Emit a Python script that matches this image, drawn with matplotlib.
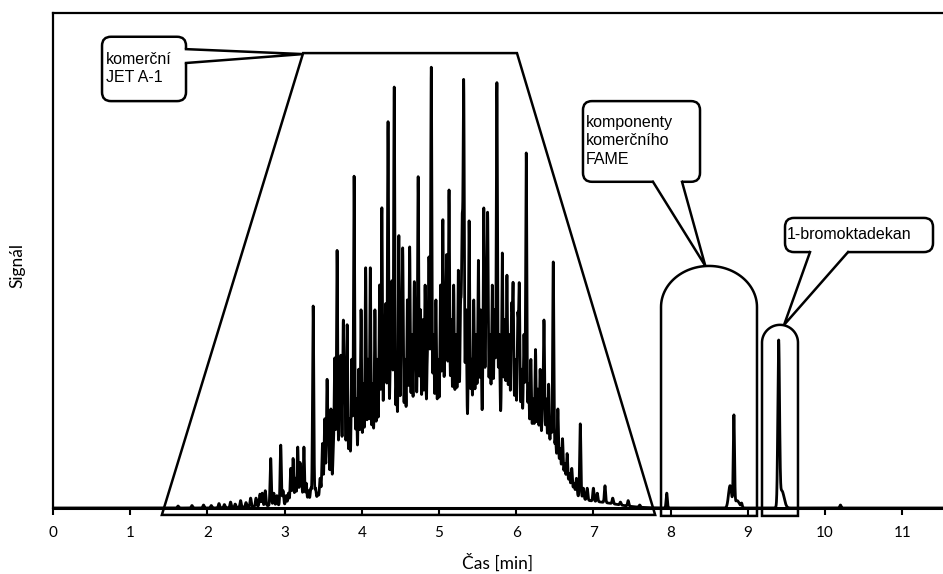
# Chromatogram of commercial JET A-1 with FAME components and 1-bromooctadecane

import numpy as np
import matplotlib
matplotlib.use("Agg")
import matplotlib.pyplot as plt
from matplotlib.patches import FancyBboxPatch, Polygon

# sharp peaks: retention time [min], apex signal
peak_t = [1.62, 1.80, 1.95, 2.05, 2.15, 2.22, 2.30, 2.36, 2.43, 2.50, 2.56, 2.63,
          2.68, 2.71, 2.75, 2.82, 2.86, 2.90, 2.95, 2.98, 3.02, 3.05, 3.08, 3.11,
          3.14, 3.17, 3.20, 3.22, 3.25, 3.28, 3.31, 3.34, 3.37, 3.40, 3.43, 3.46,
          3.49, 3.52, 3.55, 3.57, 3.60, 3.63, 3.65, 3.68, 3.71, 3.73, 3.76, 3.78,
          3.81, 3.84, 3.87, 3.90, 3.93, 3.96, 3.99, 4.02, 4.05, 4.08, 4.11, 4.14,
          4.17, 4.20, 4.23, 4.26, 4.29, 4.31, 4.34, 4.37, 4.39, 4.42, 4.45, 4.48,
          4.51, 4.53, 4.56, 4.59, 4.62, 4.65, 4.68, 4.70, 4.73, 4.76, 4.79, 4.82,
          4.85, 4.87, 4.90, 4.93, 4.96, 4.99, 5.02, 5.05, 5.08, 5.10, 5.13, 5.16,
          5.19, 5.22, 5.25, 5.28, 5.30, 5.32, 5.35, 5.39, 5.42, 5.45, 5.48, 5.51,
          5.54, 5.58, 5.61, 5.63, 5.66, 5.69, 5.72, 5.75, 5.78, 5.82, 5.85, 5.88,
          5.91, 5.94, 5.96, 5.99, 6.02, 6.04, 6.07, 6.10, 6.13, 6.16, 6.19, 6.22,
          6.25, 6.28, 6.31, 6.34, 6.36, 6.39, 6.42, 6.45, 6.48, 6.51, 6.54, 6.57,
          6.60, 6.63, 6.66, 6.69, 6.72, 6.75, 6.78, 6.83, 6.87, 6.92, 7.00, 7.05,
          7.15, 7.25, 7.35, 7.45, 7.60, 7.95, 8.92, 10.2]
peak_h = [0.4, 0.5, 0.6, 0.5, 0.9, 0.7, 1.2, 0.8, 1.5, 1.1, 2.0, 2.0,
          2.8, 3.0, 3.5, 10.0, 3.0, 2.5, 12.7, 3.5, 2.5, 3.0, 8.0, 10.0,
          6.0, 12.3, 9.0, 5.0, 12.3, 5.0, 3.5, 4.0, 40.8, 4.0, 3.0, 6.0,
          13.0, 18.0, 25.5, 14.0, 20.0, 10.0, 30.0, 52.0, 22.0, 30.0, 37.0, 25.0,
          37.0, 18.0, 30.0, 67.0, 22.0, 28.0, 40.0, 25.0, 48.5, 30.0, 48.5, 25.0,
          40.0, 30.0, 45.0, 60.6, 35.0, 40.0, 78.0, 30.0, 45.0, 85.0, 25.0, 55.0,
          35.0, 51.5, 30.0, 42.0, 52.7, 35.0, 45.0, 30.0, 66.9, 40.0, 38.0, 45.0,
          30.0, 50.0, 89.0, 35.0, 42.0, 30.0, 45.0, 58.2, 40.0, 50.0, 64.2, 38.0,
          45.0, 35.0, 48.0, 40.0, 55.0, 84.8, 40.0, 58.0, 30.0, 42.0, 35.0, 50.0,
          40.0, 60.6, 42.0, 58.6, 35.0, 45.0, 40.0, 85.9, 35.0, 51.5, 38.0, 47.0,
          35.0, 40.0, 44.4, 30.0, 38.0, 44.4, 28.0, 35.0, 71.7, 25.0, 30.0, 22.0,
          32.0, 24.0, 28.0, 20.0, 37.6, 22.0, 25.0, 18.0, 49.7, 14.0, 20.0, 12.0,
          14.0, 9.0, 11.0, 7.0, 8.0, 5.0, 6.0, 17.0, 4.0, 4.0, 4.0, 3.0,
          4.5, 2.0, 1.2, 1.5, 0.6, 3.0, 1.0, 0.6]
peak_w = 0.008

# unresolved hump and broader peaks: centre [min], height, width [min]
hump_t = [2.90, 3.90, 4.60, 5.30, 5.95, 6.45, 7.00, 8.77, 8.82, 8.86, 9.40, 9.44]
hump_h = [0.5, 4.0, 9.0, 12.0, 12.0, 5.0, 1.2, 4.5, 18.0, 1.5, 32.5, 3.5]
hump_w = [0.30, 0.35, 0.40, 0.45, 0.35, 0.18, 0.30, 0.02, 0.008, 0.03, 0.011, 0.03]

xticks = list(range(0, 12))

t = np.arange(0, 11.6, 0.001)
bg = np.zeros_like(t)
for c, h, w in zip(hump_t, hump_h, hump_w):
    bg += h * np.exp(-(t - c) ** 2 / (2 * w ** 2))
signal = bg.copy()
bg_at_peak = np.interp(peak_t, t, bg)
for c, h, b in zip(peak_t, peak_h, bg_at_peak):
    signal += max(h - b, 0) * np.exp(-(t - c) ** 2 / (2 * peak_w ** 2))

W, H = 943, 574
fig = plt.figure(figsize=(W / 100, H / 100), dpi=100)
ax = fig.add_axes([53 / W, (H - 508) / H, (W - 53) / W, 495 / H])
xmax = 890 / 77.2
ax.set_xlim(0, xmax)
ax.set_ylim(0, 100)
ax.plot(t, signal, color="black", lw=2.0, zorder=2)

ax.spines["right"].set_visible(False)
ax.spines["top"].set_linewidth(1.6)
ax.spines["left"].set_linewidth(1.6)
ax.spines["bottom"].set_linewidth(2.2)
ax.set_yticks([])
ax.set_xticks(xticks)
ax.tick_params(axis="x", direction="out", length=5, width=1.5, pad=8)
for lab in ax.get_xticklabels():
    lab.set_fontfamily("Lato")
    lab.set_fontsize(11)
ax.set_xlabel("Čas [min]", fontsize=12.5, family="Lato")
ax.xaxis.set_label_coords(0.5, -0.093)
ax.set_ylabel("Signál", fontsize=12.5, family="Lato")
ax.yaxis.set_label_coords(-0.031, 0.49)

# px per unit ratio, for round corners in data coords
asp = (890 / xmax) / (495 / 100)
lw = 1.8

# trapezoid round the JET A-1 region
trap = Polygon([(1.41, -1.4), (3.24, 91.9), (6.01, 91.9), (7.80, -1.4)], closed=True,
               fill=False, ec="black", lw=lw, zorder=3, clip_on=False)
ax.add_patch(trap)


def arch(x0, x1, top, b, bottom):
    cx, a = (x0 + x1) / 2, (x1 - x0) / 2
    th = np.linspace(0, np.pi, 60)
    xs = np.concatenate([[x1], cx + a * np.cos(th), [x0]])
    ys = np.concatenate([[bottom], top - b + b * np.sin(th), [bottom]])
    ax.add_patch(Polygon(np.column_stack([xs, ys]), closed=True, fill=False,
                         ec="black", lw=lw, zorder=3, clip_on=False))


arch(7.876, 9.119, 48.9, 8.3, -1.6)
arch(9.184, 9.650, 37.0, 3.6, -1.6)


def callout(x0, x1, y0, y1, text, tx, ty, base1, base2, tip, inset):
    r = 9 / 77.2
    box = FancyBboxPatch((x0, y0), x1 - x0, y1 - y0,
                         boxstyle=f"round,pad=0,rounding_size={r}",
                         mutation_aspect=asp, fc="white", ec="black", lw=lw,
                         zorder=4, clip_on=False)
    ax.add_patch(box)
    b1in = (base1[0] + inset[0], base1[1] + inset[1])
    b2in = (base2[0] + inset[0], base2[1] + inset[1])
    ax.add_patch(Polygon([b1in, base1, tip, base2, b2in], closed=True, fc="white",
                         ec="none", zorder=5, clip_on=False))
    ax.plot([base1[0], tip[0], base2[0]], [base1[1], tip[1], base2[1]],
            color="black", lw=lw, zorder=5, clip_on=False, solid_joinstyle="miter")
    ax.text(tx, ty, text, ha="left", va="center", fontsize=11.5,
            family="Liberation Sans", zorder=6, linespacing=1.3)


callout(0.635, 1.723, 82.2, 95.2, "komerční\nJET A-1", 0.687, 88.8,
        (1.723, 92.7), (1.723, 89.9), (3.24, 91.7), (-0.06, 0))
callout(6.865, 8.381, 65.9, 82.2, "komponenty\nkomerčního\nFAME", 6.904, 74.2,
        (7.772, 65.9), (8.148, 65.9), (8.45, 48.9), (0, 1.0))
callout(9.482, 11.399, 51.7, 58.6, "1-bromoktadekan", 9.508, 55.3,
        (9.806, 51.7), (10.298, 51.7), (9.47, 37.0), (0, 1.0))

fig.savefig("out.png", dpi=100)
